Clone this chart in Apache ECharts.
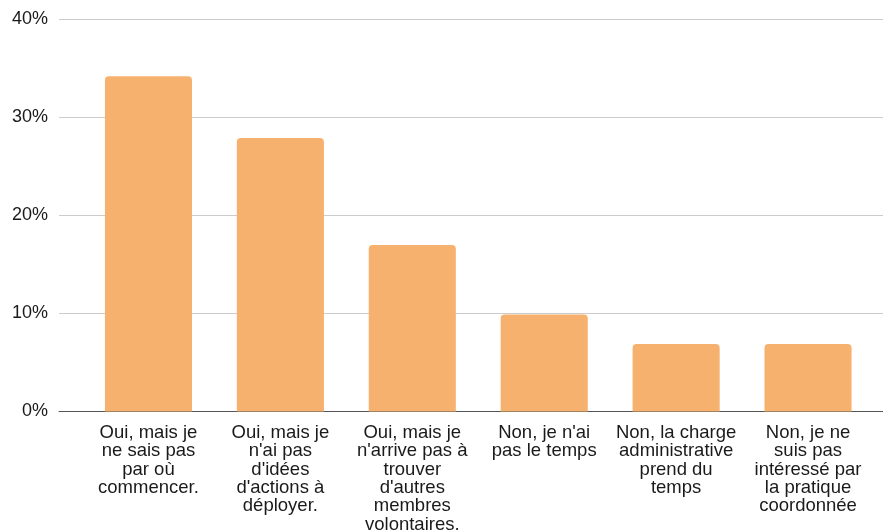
<!DOCTYPE html>
<html>
<head>
<meta charset="utf-8">
<script src="https://cdn.jsdelivr.net/npm/echarts@6/dist/echarts.min.js"></script>
<style>
html, body { margin: 0; padding: 0; background: #fff; }
#chart { width: 883px; height: 532px; }
</style>
</head>
<body>
<div id="chart"></div>
<script>
// catégories (réponses) et pourcentages
var categories = [
	"Oui, mais je\nne sais pas\npar où\ncommencer.",
	"Oui, mais je\nn'ai pas\nd'idées\nd'actions à\ndéployer.",
	"Oui, mais je\nn'arrive pas à\ntrouver\nd'autres\nmembres\nvolontaires.",
	"Non, je n'ai\npas le temps",
	"Non, la charge\nadministrative\nprend du\ntemps",
	"Non, je ne\nsuis pas\nintéressé par\nla pratique\ncoordonnée"
];
var values = [34.2, 27.9, 17.0, 9.9, 6.9, 6.9];
var yTicks = [0, 10, 20, 30, 40];

var myChart = echarts.init(document.getElementById('chart'));

var option = {
	animation: false,
	backgroundColor: '#ffffff',
	grid: [
		// grille de fond : axe Y, lignes de quadrillage
		{ left: 59, right: 0, top: 19.5, bottom: 120.5, containLabel: false, outerBoundsMode: 'none' },
		// grille des barres
		{ left: 82.5, right: 9, top: 19.5, bottom: 120.5, containLabel: false, outerBoundsMode: 'none' }
	],
	xAxis: [
		{
			gridIndex: 0,
			type: 'category',
			data: categories,
			axisLine: { show: true, lineStyle: { color: '#555', width: 1 } },
			axisTick: { show: false },
			axisLabel: { show: false }
		},
		{
			gridIndex: 1,
			type: 'category',
			data: categories,
			axisLine: { show: false },
			axisTick: { show: false },
			axisLabel: {
				interval: 0,
				margin: 12,
				color: '#1a1a1a',
				fontFamily: 'Liberation Sans, Arial, sans-serif',
				fontSize: 18.5,
				lineHeight: 18.4,
				align: 'center',
				verticalAlign: 'top'
			}
		}
	],
	yAxis: [
		{
			gridIndex: 0,
			type: 'value',
			min: yTicks[0],
			max: yTicks[yTicks.length - 1],
			interval: 10,
			axisLine: { show: false },
			axisTick: { show: false },
			axisLabel: {
				margin: 11,
				color: '#1a1a1a',
				fontFamily: 'Liberation Sans, Arial, sans-serif',
				fontSize: 18,
				padding: [2, 0, 0, 0],
				formatter: function (v) { return v + '%'; }
			},
			splitLine: { show: true, lineStyle: { color: '#cccccc', width: 1 } }
		},
		{
			gridIndex: 1,
			type: 'value',
			min: yTicks[0],
			max: yTicks[yTicks.length - 1],
			interval: 10,
			show: false,
			splitLine: { show: false }
		}
	],
	series: [
		{
			type: 'bar',
			xAxisIndex: 1,
			yAxisIndex: 1,
			data: values,
			barWidth: '66%',
			z: 3,
			itemStyle: {
				color: '#F5B16D',
				borderRadius: [4, 4, 0, 0]
			}
		}
	]
};

myChart.setOption(option);
</script>
</body>
</html>
